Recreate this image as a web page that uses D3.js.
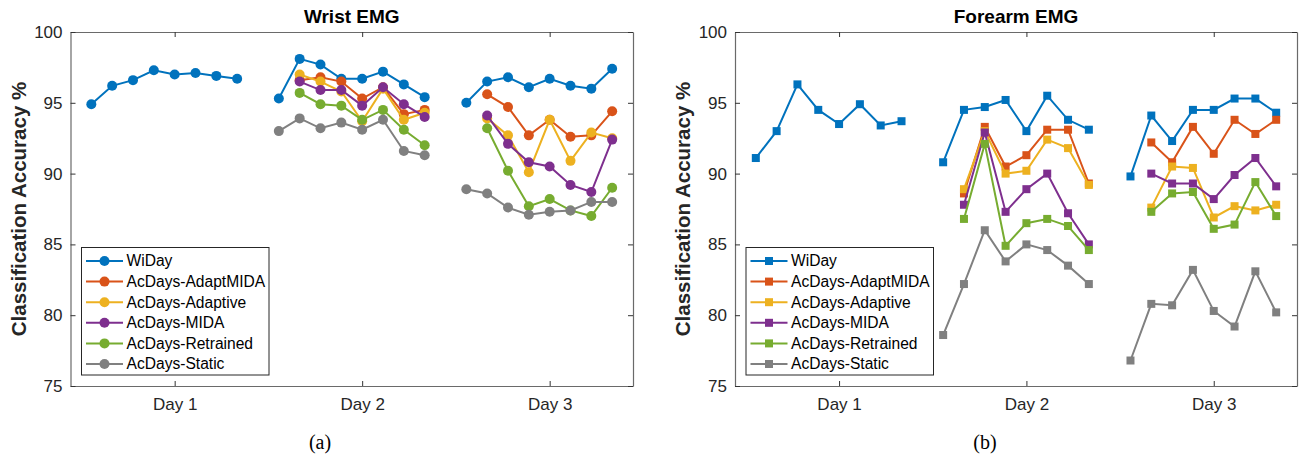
<!DOCTYPE html>
<html><head><meta charset="utf-8">
<script src="https://cdn.jsdelivr.net/npm/d3@7/dist/d3.min.js"></script>
<style>body{margin:0;background:#fff;} svg{display:block;}</style>
</head><body>
<svg id="c" width="1301" height="458"></svg>
<script>
// ---- data ----
const seriesNames = ["WiDay","AcDays-AdaptMIDA","AcDays-Adaptive","AcDays-MIDA","AcDays-Retrained","AcDays-Static"];
const seriesColors = ["#0072BD","#D95319","#EDB120","#7E2F8E","#77AC30","#808080"];
const dayLabels = ["Day 1","Day 2","Day 3"];
const dayTicks = [5, 14, 23];
const yTicks = [75, 80, 85, 90, 95, 100];
const xDay1 = [1,2,3,4,5,6,7,8];
const xDay2 = [10,11,12,13,14,15,16,17];
const xDay3 = [19,20,21,22,23,24,25,26];
const xDay2b = [11,12,13,14,15,16,17];
const xDay3b = [20,21,22,23,24,25,26];

// Wrist EMG
const wristWiDay = [[94.9,96.2,96.6,97.3,97.0,97.1,96.9,96.7],[95.3,98.1,97.7,96.7,96.7,97.2,96.3,95.4],[95.0,96.5,96.8,96.1,96.7,96.2,96.0,97.4]];
const wristAdaptMIDA = [[96.6,96.8,96.5,95.3,96.1,94.2,94.5],[95.6,94.7,92.7,93.8,92.6,92.7,94.4]];
const wristAdaptive = [[97.0,96.5,95.8,93.7,96.0,93.8,94.3],[93.9,92.7,90.1,93.8,90.9,92.9,92.5]];
const wristMIDA = [[96.5,95.9,95.9,94.8,96.1,94.9,94.0],[94.1,92.1,90.8,90.5,89.2,88.7,92.4]];
const wristRetrained = [[95.7,94.9,94.8,93.8,94.5,93.1,92.0],[93.2,90.2,87.7,88.2,87.4,87.0,89.0]];
const wristStatic = [[93.0,93.9,93.2,93.6,93.1,93.8,91.6,91.3],[88.9,88.6,87.6,87.1,87.3,87.4,88.0,88.0]];

// Forearm EMG
const foreWiDay = [[91.1,93.0,96.3,94.5,93.5,94.9,93.4,93.7],[90.8,94.5,94.7,95.2,93.0,95.5,93.8,93.1],[89.8,94.1,92.3,94.5,94.5,95.3,95.3,94.3]];
const foreAdaptMIDA = [[88.6,93.3,90.5,91.3,93.1,93.1,89.3],[92.2,90.8,93.3,91.4,93.8,92.8,93.8]];
const foreAdaptive = [[88.9,93.0,90.0,90.2,92.4,91.8,89.2],[87.6,90.5,90.4,86.9,87.7,87.4,87.8]];
const foreMIDA = [[87.8,92.9,87.3,88.9,90.0,87.2,85.0],[90.0,89.3,89.3,88.2,89.9,91.1,89.1]];
const foreRetrained = [[86.8,92.1,84.9,86.5,86.8,86.3,84.6],[87.3,88.6,88.7,86.1,86.4,89.4,87.0]];
const foreStatic = [[78.6,82.2,86.0,83.8,85.0,84.6,83.5,82.2],[76.8,80.8,80.7,83.2,80.3,79.2,83.1,80.2]];

function build(wi, am, ad, mi, re, st) {
  return [
    [[xDay1, wi[0]], [xDay2, wi[1]], [xDay3, wi[2]]],
    [[xDay2b, am[0]], [xDay3b, am[1]]],
    [[xDay2b, ad[0]], [xDay3b, ad[1]]],
    [[xDay2b, mi[0]], [xDay3b, mi[1]]],
    [[xDay2b, re[0]], [xDay3b, re[1]]],
    [[xDay2, st[0]], [xDay3, st[1]]]
  ];
}
const panels = [
  {title:"Wrist EMG", caption:"(a)", marker:"circle", left:70.5, right:633, capX:320,
   data: build(wristWiDay, wristAdaptMIDA, wristAdaptive, wristMIDA, wristRetrained, wristStatic)},
  {title:"Forearm EMG", caption:"(b)", marker:"square", left:735, right:1297, capX:985,
   data: build(foreWiDay, foreAdaptMIDA, foreAdaptive, foreMIDA, foreRetrained, foreStatic)}
];

const svg = d3.select("#c");
const yTop = 32, yBottom = 386;
const axisCol = "#6a6a6a";
const textCol = "#262626";

panels.forEach(p => {
  const x = d3.scaleLinear().domain([0, 27]).range([p.left, p.right]);
  const y = d3.scaleLinear().domain([75, 100]).range([yBottom, yTop]);
  const g = svg.append("g");

  // axes (box style, inward ticks)
  const ax = [
    g.append("g").attr("transform", `translate(0,${yBottom})`).call(d3.axisBottom(x).tickValues(dayTicks).tickFormat((d,i)=>dayLabels[i]).tickSizeInner(-5).tickSizeOuter(0).tickPadding(12)),
    g.append("g").attr("transform", `translate(0,${yTop})`).call(d3.axisTop(x).tickValues(dayTicks).tickFormat("").tickSizeInner(-5).tickSizeOuter(0)),
    g.append("g").attr("transform", `translate(${p.left},0)`).call(d3.axisLeft(y).tickValues(yTicks).tickSizeInner(-5).tickSizeOuter(0).tickPadding(8)),
    g.append("g").attr("transform", `translate(${p.right},0)`).call(d3.axisRight(y).tickValues(yTicks).tickFormat("").tickSizeInner(-5).tickSizeOuter(0))
  ];
  ax.forEach(a => {
    a.selectAll(".domain").attr("stroke", axisCol).attr("stroke-width", 1.2);
    a.selectAll(".tick line").attr("stroke", "#333");
    a.selectAll("text").attr("fill", textCol).attr("font-family", "'Liberation Sans', Arial, sans-serif").attr("font-size", "17px");
  });

  // title
  g.append("text").attr("x", (p.left + p.right) / 2).attr("y", 23).attr("text-anchor", "middle")
    .attr("font-family", "'Liberation Sans', Arial, sans-serif").attr("font-weight", "bold").attr("font-size", "19px")
    .attr("fill", "#000").text(p.title);
  // y label
  g.append("text").attr("transform", `translate(${p.left - 45},${(yTop + yBottom) / 2}) rotate(-90)`)
    .attr("text-anchor", "middle").attr("font-family", "'Liberation Sans', Arial, sans-serif")
    .attr("font-weight", "bold").attr("font-size", "20.5px").attr("fill", textCol).text("Classification Accuracy %");
  // caption
  g.append("text").attr("x", p.capX).attr("y", 449).attr("text-anchor", "middle")
    .attr("font-family", "'Liberation Serif', 'Times New Roman', serif").attr("font-size", "20px").attr("fill", "#000").text(p.caption);

  const line = d3.line().x(d => x(d[0])).y(d => y(d[1]));
  p.data.forEach((segs, si) => {
    const col = seriesColors[si];
    segs.forEach(([xs, vs]) => {
      const pts = xs.map((xx, i) => [xx, vs[i]]);
      g.append("path").datum(pts).attr("d", line).attr("fill", "none").attr("stroke", col).attr("stroke-width", 2);
      if (p.marker === "circle") {
        g.selectAll(null).data(pts).enter().append("circle")
          .attr("cx", d => x(d[0])).attr("cy", d => y(d[1])).attr("r", 5).attr("fill", col);
      } else {
        g.selectAll(null).data(pts).enter().append("rect")
          .attr("x", d => x(d[0]) - 4).attr("y", d => y(d[1]) - 4).attr("width", 8).attr("height", 8).attr("fill", col);
      }
    });
  });

  // legend
  const lx = p.left + 11, ly = 247.5, lw = 187.5, lh = 127.5;
  const lg = g.append("g");
  lg.append("rect").attr("x", lx).attr("y", ly).attr("width", lw).attr("height", lh)
    .attr("fill", "#fff").attr("stroke", "#262626").attr("stroke-width", 1);
  seriesNames.forEach((name, i) => {
    const ry = 261 + i * 20.6;
    lg.append("line").attr("x1", lx + 4.5).attr("x2", lx + 41.5).attr("y1", ry).attr("y2", ry)
      .attr("stroke", seriesColors[i]).attr("stroke-width", 2);
    if (p.marker === "circle") {
      lg.append("circle").attr("cx", lx + 23).attr("cy", ry).attr("r", 5).attr("fill", seriesColors[i]);
    } else {
      lg.append("rect").attr("x", lx + 23 - 4).attr("y", ry - 4).attr("width", 8).attr("height", 8).attr("fill", seriesColors[i]);
    }
    lg.append("text").attr("x", lx + 45).attr("y", ry).attr("dy", "0.35em")
      .attr("font-family", "'Liberation Sans', Arial, sans-serif").attr("font-size", "15.6px").attr("fill", "#000").text(name);
  });
});
</script>
</body></html>
